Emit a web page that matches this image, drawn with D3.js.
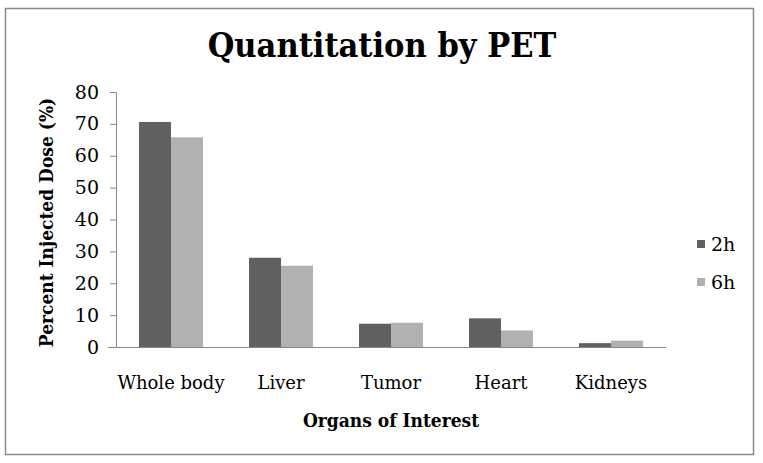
<!DOCTYPE html>
<html>
<head>
<meta charset="utf-8">
<script src="https://cdn.jsdelivr.net/npm/d3@7"></script>
<style>
  body { margin: 0; background: #fff; }
  text { font-family: "DejaVu Serif", serif; }
</style>
</head>
<body>
<div id="chart"></div>
<script>
// data
const organs = ["Whole body", "Liver", "Tumor", "Heart", "Kidneys"];
const series = ["2h", "6h"];
const dose2h = [70.6, 28.0, 7.3, 9.0, 1.2];
const dose6h = [65.8, 25.5, 7.6, 5.2, 2.0];
const yTicks = [0, 10, 20, 30, 40, 50, 60, 70, 80];
const colors = ["#606060", "#b1b1b1"];

const width = 763, height = 463;
const margin = {top: 92, right: 97, bottom: 116, left: 116};

let svg = d3.select("#chart")
    .append("svg")
    .attr("width", width)
    .attr("height", height);

// outer frame
svg.append("rect")
    .attr("x", 5.5).attr("y", 8.5)
    .attr("width", 748).attr("height", 446)
    .attr("fill", "none")
    .attr("stroke", "#8a8a8a")
    .attr("stroke-width", 1.5);

let g = svg.append("g")
    .attr("transform", `translate(${margin.left}, ${margin.top})`);

const plotW = width - margin.left - margin.right;
const plotH = height - margin.top - margin.bottom;

let x = d3.scaleBand()
    .domain(organs)
    .range([0, plotW]);

let xs = d3.scaleBand()
    .domain(series)
    .range([0, 64]);

let y = d3.scaleLinear()
    .domain([0, 80])
    .range([plotH, 0]);

let rows = organs.map((o, i) => ({organ: o, values: [dose2h[i], dose6h[i]]}));

let groups = g.selectAll(".grp").data(rows)
    .enter().append("g")
    .attr("class", "grp")
    .attr("transform", d => `translate(${x(d.organ) + (x.bandwidth() - 64) / 2}, 0)`);

groups.selectAll("rect")
    .data(d => d.values.map((v, j) => ({s: series[j], v: v, j: j})))
    .enter().append("rect")
    .attr("x", d => xs(d.s))
    .attr("y", d => y(d.v))
    .attr("width", xs.bandwidth())
    .attr("height", d => plotH - y(d.v))
    .attr("fill", d => colors[d.j]);

// y axis
let yAxis = g.append("g")
    .call(d3.axisLeft(y).tickValues(yTicks).tickSize(6).tickPadding(11));
yAxis.select(".domain").attr("stroke", "#868686");
yAxis.selectAll(".tick line").attr("stroke", "#868686");
yAxis.selectAll("text")
    .style("font-size", "19px")
    .attr("fill", "#000");

// x axis
let xAxis = g.append("g")
    .attr("transform", `translate(0, ${plotH})`)
    .call(d3.axisBottom(x).tickSize(0).tickPadding(29));
xAxis.select(".domain").attr("stroke", "#868686").attr("d", `M-8,0.5H${plotW}`);
xAxis.selectAll("text")
    .style("font-size", "18px")
    .attr("fill", "#000");

// titles
svg.append("text")
    .attr("x", 382).attr("y", 57)
    .style("text-anchor", "middle")
    .style("font-size", "34px")
    .style("font-weight", "bold")
    .style("font-family", "'DejaVu Serif Condensed', serif")
    .text("Quantitation by PET");

svg.append("text")
    .attr("x", 391).attr("y", 427)
    .style("text-anchor", "middle")
    .style("font-size", "19px")
    .style("font-weight", "bold")
    .style("font-family", "'DejaVu Serif Condensed', serif")
    .text("Organs of Interest");

svg.append("text")
    .attr("transform", `translate(53, ${margin.top + plotH / 2 + 3}) rotate(-90)`)
    .style("text-anchor", "middle")
    .style("font-size", "19px")
    .style("font-weight", "bold")
    .style("font-family", "'DejaVu Serif Condensed', serif")
    .text("Percent Injected Dose (%)");

// legend
let legend = svg.selectAll(".leg").data(series)
    .enter().append("g")
    .attr("class", "leg")
    .attr("transform", (d, i) => `translate(697, ${240 + i * 38})`);

legend.append("rect")
    .attr("width", 8).attr("height", 8)
    .attr("fill", (d, i) => colors[i]);

legend.append("text")
    .attr("x", 14).attr("y", 11)
    .style("font-size", "19px")
    .text(d => d);
</script>
</body>
</html>
